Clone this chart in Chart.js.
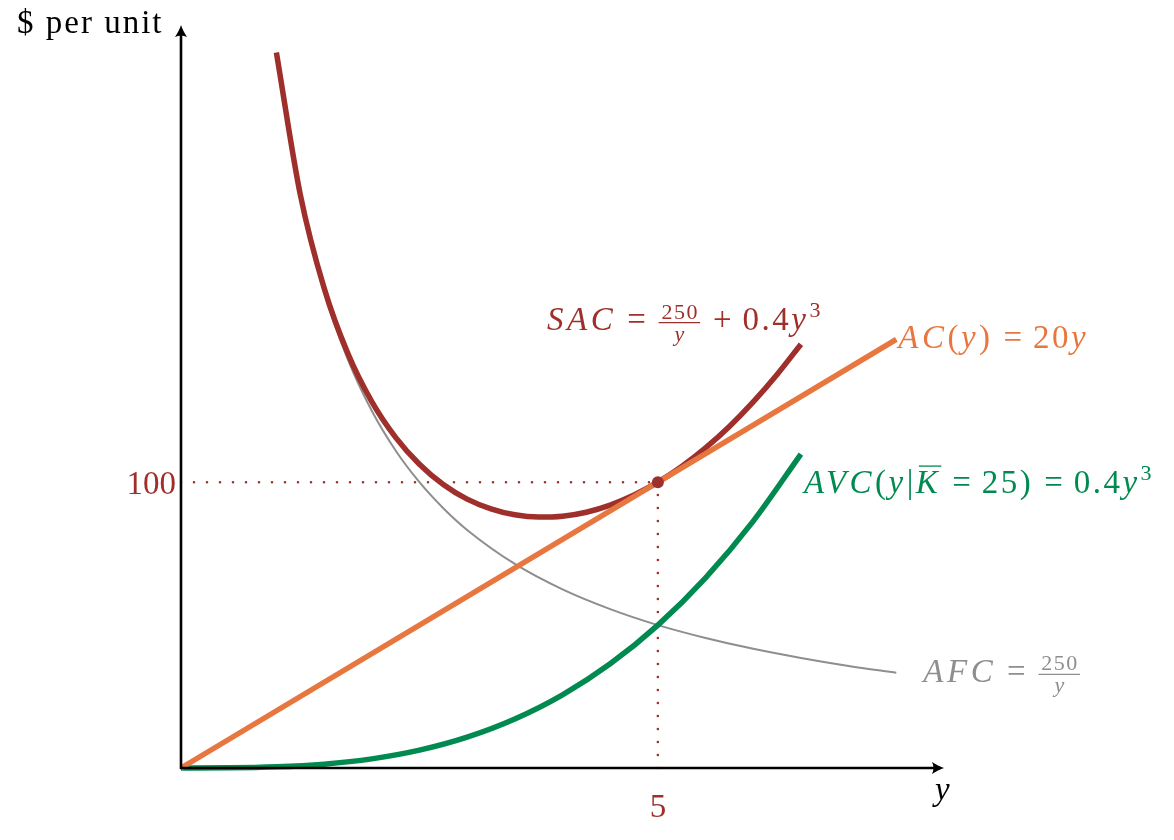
<!DOCTYPE html>
<html>
<head>
<meta charset="utf-8">
<script src="https://cdn.jsdelivr.net/npm/chart.js@4/dist/chart.umd.min.js"></script>
<style>
  html, body { margin: 0; padding: 0; background: #fff; }
  #wrap { width: 1174px; height: 840px; }
</style>
</head>
<body>
<div id="wrap"><canvas id="costChart" width="1174" height="840"></canvas></div>
<script>
// output levels (y) and per-unit costs
const sacOutput = [1, 1.25, 1.5, 1.75, 2, 2.25, 2.5, 2.75, 3, 3.25, 3.5, 3.75, 4, 4.25, 4.5, 4.75, 5, 5.25, 5.5, 5.75, 6, 6.25, 6.5];
const sacCost = [250.4, 200.8, 168.0, 145.0, 128.2, 115.7, 106.3, 99.2, 94.1, 90.7, 88.6, 87.8, 88.1, 89.5, 92.0, 95.5, 100, 105.5, 112.0, 119.5, 128.1, 137.7, 148.3];

const afcOutput = [1, 1.25, 1.5, 1.75, 2, 2.25, 2.5, 2.75, 3, 3.5, 4, 4.5, 5, 5.5, 6, 6.5, 7, 7.5];
const afcCost = [250, 200, 166.7, 142.9, 125, 111.1, 100, 90.9, 83.3, 71.4, 62.5, 55.6, 50, 45.5, 41.7, 38.5, 35.7, 33.3];

const avcOutput = [0, 0.5, 1, 1.5, 2, 2.5, 3, 3.5, 4, 4.5, 5, 5.5, 6, 6.5];
const avcCost = [0, 0.05, 0.4, 1.35, 3.2, 6.25, 10.8, 17.15, 25.6, 36.45, 50, 66.55, 86.4, 109.85];

const acOutput = [0, 7.5];
const acCost = [0, 150];

// the marked point and its tick labels
const markOutput = 5;
const markCost = 100;
const xTickLabels = ['5'];
const yTickLabels = ['100'];

const RED = '#9e2f2b';
const ORANGE = '#e8773f';
const GREEN = '#008a50';
const GRAY = '#8e8e8e';
const SERIF = '"Liberation Serif", "DejaVu Serif", serif';
const FS = 33;
const SUB = 22;

const pts = (xs, ys) => xs.map((x, i) => ({ x: x, y: ys[i] }));

function setFont(ctx, size, it) {
  ctx.font = (it ? 'italic ' : '') + size + 'px ' + SERIF;
  ctx.letterSpacing = it ? '3.5px' : '2.5px';
}

// width of one piece of a math label
function partWidth(ctx, p) {
  if (p.frac) {
    setFont(ctx, SUB, false); ctx.letterSpacing = '1.5px';
    const a = ctx.measureText(p.frac[0]).width;
    setFont(ctx, SUB, true); ctx.letterSpacing = '0px';
    const b = ctx.measureText(p.frac[1]).width;
    return Math.max(a, b) + 8;
  }
  if (p.op) {
    setFont(ctx, FS, false);
    ctx.letterSpacing = '0px';
    return ctx.measureText(p.op).width + FS * 0.66;
  }
  setFont(ctx, p.sup ? SUB : FS, p.it);
  return ctx.measureText(p.t).width;
}

// draws a little math expression made of parts
function drawMath(ctx, parts, x, y, color, align) {
  const total = parts.reduce((s, p) => s + partWidth(ctx, p), 0);
  let cx = align === 'right' ? x - total : x;
  ctx.save();
  ctx.fillStyle = color;
  ctx.strokeStyle = color;
  ctx.textBaseline = 'alphabetic';
  ctx.textAlign = 'left';
  parts.forEach(p => {
    const w = partWidth(ctx, p);
    if (p.frac) {
      const barY = y - 7.5;
      ctx.lineWidth = 1.2;
      ctx.beginPath(); ctx.moveTo(cx + 2, barY); ctx.lineTo(cx + w - 2, barY); ctx.stroke();
      ctx.textAlign = 'center';
      setFont(ctx, SUB, false); ctx.letterSpacing = '1.5px';
      ctx.fillText(p.frac[0], cx + w / 2 + 0.75, barY - 4);
      setFont(ctx, SUB, true); ctx.letterSpacing = '0px';
      ctx.fillText(p.frac[1], cx + w / 2, barY + 18);
      ctx.textAlign = 'left';
    } else if (p.op) {
      setFont(ctx, FS, false);
      ctx.letterSpacing = '0px';
      ctx.fillText(p.op, cx + FS * 0.33, y);
    } else if (p.sup) {
      setFont(ctx, SUB, false); ctx.fillText(p.t, cx, y - 13);
    } else {
      setFont(ctx, FS, p.it); ctx.fillText(p.t, cx, y);
      if (p.bar) {
        ctx.lineWidth = 1.3;
        ctx.beginPath(); ctx.moveTo(cx + 3, y - 27); ctx.lineTo(cx + w, y - 27); ctx.stroke();
      }
    }
    cx += w;
  });
  ctx.restore();
}

function arrowHead(ctx, x, y, dir) {
  ctx.save();
  ctx.translate(x, y);
  if (dir === 'up') ctx.rotate(-Math.PI / 2);
  ctx.beginPath();
  ctx.moveTo(0, 0);
  ctx.quadraticCurveTo(-5, -1.5, -12, -6);
  ctx.quadraticCurveTo(-9, 0, -12, 6);
  ctx.quadraticCurveTo(-5, 1.5, 0, 0);
  ctx.closePath();
  ctx.fill();
  ctx.restore();
}

const axesAndLabels = {
  id: 'axesAndLabels',
  afterDatasetsDraw(chart) {
    const { ctx, chartArea: a, scales } = chart;
    const px = v => scales.x.getPixelForValue(v);
    const py = v => scales.y.getPixelForValue(v);
    ctx.save();
    ctx.strokeStyle = '#000';
    ctx.fillStyle = '#000';
    ctx.lineWidth = 2.6;
    ctx.beginPath();
    ctx.moveTo(px(0), py(0));
    ctx.lineTo(a.right - 4, py(0));
    ctx.moveTo(px(0), py(0) + 1.3);
    ctx.lineTo(px(0), a.top + 4);
    ctx.stroke();
    arrowHead(ctx, a.right, py(0), 'right');
    arrowHead(ctx, px(0), a.top, 'up');

    // axis titles
    ctx.textBaseline = 'alphabetic';
    setFont(ctx, FS, false);
    ctx.letterSpacing = '2px';
    ctx.textAlign = 'left';
    ctx.fillText('$ per unit', 17, a.top + 8);
    setFont(ctx, FS, true);
    ctx.textAlign = 'center';
    ctx.fillText('y', a.right, py(0) + 32);

    // tick labels at the marked point
    ctx.fillStyle = RED;
    setFont(ctx, FS, false);
    ctx.letterSpacing = '0px';
    ctx.textAlign = 'right';
    ctx.fillText(yTickLabels[0], px(0) - 5, py(markCost) + 12);
    ctx.textAlign = 'center';
    ctx.fillText(xTickLabels[0], px(markOutput), py(0) + 49);
    ctx.restore();

    // curve labels
    const sacEnd = sacOutput.length - 1;
    drawMath(ctx, [
      { t: 'SAC', it: true }, { op: '=' }, { frac: ['250', 'y'] }, { op: '+' }, { t: '0.4' }, { t: 'y', it: true }, { t: '3', sup: true }
    ], px(sacOutput[sacEnd]) + 22, py(sacCost[sacEnd]) - 14, RED, 'right');

    drawMath(ctx, [
      { t: 'AC', it: true }, { t: '(' }, { t: 'y', it: true }, { t: ')' }, { op: '=' }, { t: '20' }, { t: 'y', it: true }
    ], px(acOutput[1]) + 2, py(acCost[1]) + 9, ORANGE, 'left');

    const avcEnd = avcOutput.length - 1;
    drawMath(ctx, [
      { t: 'AVC', it: true }, { t: '(' }, { t: 'y', it: true }, { t: '|' }, { t: 'K', it: true, bar: true },
      { op: '=' }, { t: '25)' }, { op: '=' }, { t: '0.4' }, { t: 'y', it: true }, { t: '3', sup: true }
    ], px(avcOutput[avcEnd]) + 3, py(avcCost[avcEnd]) + 39, GREEN, 'left');

    const afcEnd = afcOutput.length - 1;
    drawMath(ctx, [
      { t: 'AFC', it: true }, { op: '=' }, { frac: ['250', 'y'] }
    ], px(afcOutput[afcEnd]) + 27, py(afcCost[afcEnd]) + 9, GRAY, 'left');
  }
};

const ctx = document.getElementById('costChart').getContext('2d');
new Chart(ctx, {
  type: 'line',
  data: {
    datasets: [
      {
        label: 'mark',
        data: [{ x: markOutput, y: markCost }],
        showLine: false,
        pointRadius: 6,
        pointBackgroundColor: RED,
        pointBorderWidth: 0
      },
      {
        label: 'AC',
        data: pts(acOutput, acCost),
        borderColor: ORANGE,
        borderWidth: 5.5,
        pointRadius: 0
      },
      {
        label: 'SAC',
        data: pts(sacOutput, sacCost),
        borderColor: RED,
        borderWidth: 5.5,
        pointRadius: 0,
        cubicInterpolationMode: 'monotone'
      },
      {
        label: 'AVC',
        data: pts(avcOutput, avcCost),
        borderColor: GREEN,
        borderWidth: 5.5,
        pointRadius: 0,
        cubicInterpolationMode: 'monotone'
      },
      {
        label: 'AFC',
        data: pts(afcOutput, afcCost),
        borderColor: GRAY,
        borderWidth: 2,
        pointRadius: 0,
        cubicInterpolationMode: 'monotone'
      },
      {
        label: 'guide x',
        data: [{ x: 0, y: markCost }, { x: markOutput, y: markCost }],
        borderColor: RED,
        borderWidth: 2.6,
        borderDash: [0, 13],
        borderCapStyle: 'round',
        pointRadius: 0
      },
      {
        label: 'guide y',
        data: [{ x: markOutput, y: 0 }, { x: markOutput, y: markCost }],
        borderColor: RED,
        borderWidth: 2.6,
        borderDash: [0, 13],
        borderCapStyle: 'round',
        pointRadius: 0
      }
    ]
  },
  options: {
    responsive: false,
    animation: false,
    clip: false,
    layout: { padding: { left: 181, right: 230, top: 25, bottom: 72 } },
    plugins: { legend: { display: false }, tooltip: { enabled: false } },
    scales: {
      x: { type: 'linear', min: 0, max: 8, display: false },
      y: { type: 'linear', min: 0, max: 260, display: false }
    }
  },
  plugins: [axesAndLabels]
});
</script>
</body>
</html>
